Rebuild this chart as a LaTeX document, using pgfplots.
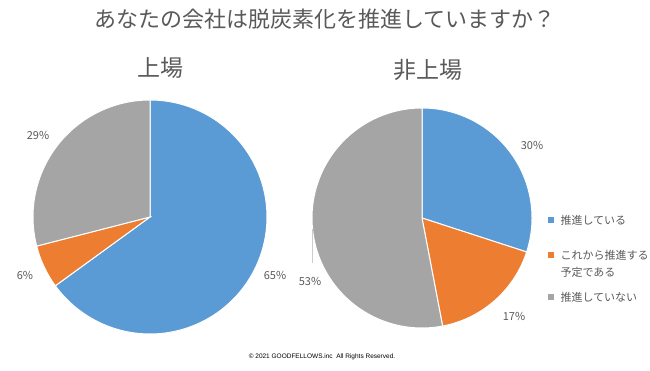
\documentclass[border=0pt]{standalone}
\usepackage{pgfplots}
\pgfplotsset{compat=1.18}
\usepackage{fontspec}
\setmainfont{Noto Sans CJK JP}
\newfontfamily\arialfont{Liberation Sans}
\definecolor{pblue}{HTML}{5B9BD5}
\definecolor{porange}{HTML}{ED7D31}
\definecolor{pgray}{HTML}{A5A5A5}
\definecolor{txt}{HTML}{595959}
% #1 cx, #2 cy, #3 r, #4 cumulative start %, #5 cumulative end %, #6 colour
\newcommand{\slice}[6]{%
  \addplot[fill=#6, draw=white, line width=1pt, domain={90-3.6*(#5)}:{90-3.6*(#4)}, samples=120, variable=\t]
    ({#1+#3*cos(\t)},{#2+#3*sin(\t)}) -- (axis cs:#1,#2) -- cycle;}
\begin{document}
\begin{tikzpicture}
\begin{axis}[x=1pt,y=1pt,xmin=0,xmax=650,ymin=0,ymax=371,hide axis,clip=false,
  scale only axis]
\path[use as bounding box] (axis cs:0,0) rectangle (axis cs:650,371);
% 上場: 推進している 65, これから 6, 推進していない 29
\slice{150}{154}{117}{0}{65}{pblue}
\slice{150}{154}{117}{65}{71}{porange}
\slice{150}{154}{117}{71}{100}{pgray}
% 非上場: 30, 17, 53
\slice{422}{153}{110}{0}{30}{pblue}
\slice{422}{153}{110}{30}{47}{porange}
\slice{422}{153}{110}{47}{100}{pgray}
% leader line
\draw[color=black!20, line width=0.6pt] (axis cs:312.5,142) -- (axis cs:312.5,108);
% labels
\node[txt,font=\fontsize{11}{13}\selectfont] at (axis cs:275,96) {65\%};
\node[txt,font=\fontsize{11}{13}\selectfont] at (axis cs:25,96) {6\%};
\node[txt,font=\fontsize{11}{13}\selectfont] at (axis cs:38,236) {29\%};
\node[txt,font=\fontsize{11}{13}\selectfont] at (axis cs:532,226) {30\%};
\node[txt,font=\fontsize{11}{13}\selectfont] at (axis cs:514,55) {17\%};
\node[txt,font=\fontsize{11}{13}\selectfont] at (axis cs:310,90) {53\%};
% titles
\node[txt,font=\fontsize{22}{26}\selectfont] at (axis cs:325,352) {あなたの会社は脱炭素化を推進していますか？};
\node[txt,font=\fontsize{23}{27}\selectfont] at (axis cs:160,303) {上場};
\node[txt,font=\fontsize{23}{27}\selectfont] at (axis cs:428,301) {非上場};
% legend
\fill[pblue] (axis cs:548,148) rectangle (axis cs:554,154);
\node[txt,anchor=west,font=\fontsize{11}{13}\selectfont] at (axis cs:557,151) {推進している};
\fill[porange] (axis cs:548,113) rectangle (axis cs:554,119);
\node[txt,anchor=west,font=\fontsize{11}{13}\selectfont] at (axis cs:557,116) {これから推進する};
\node[txt,anchor=west,font=\fontsize{11}{13}\selectfont] at (axis cs:557,99) {予定である};
\fill[pgray] (axis cs:548,71) rectangle (axis cs:554,77);
\node[txt,anchor=west,font=\fontsize{11}{13}\selectfont] at (axis cs:557,74) {推進していない};
% footer
\node[black,font=\arialfont\fontsize{6.5}{8}\selectfont] at (axis cs:322,14) {© 2021 GOODFELLOWS.inc\ \ All Rights Reserved.};
\end{axis}
\end{tikzpicture}
\end{document}
